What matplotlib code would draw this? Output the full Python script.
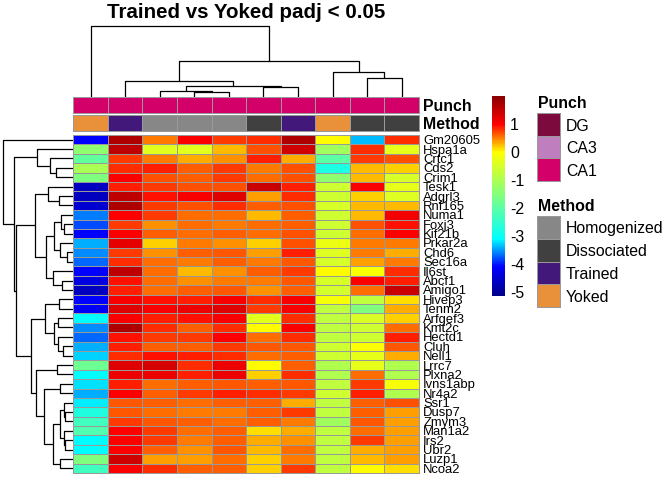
# pheatmap-style heatmap: Trained vs Yoked padj < 0.05
import numpy as np
import matplotlib
matplotlib.use('Agg')
import matplotlib.pyplot as plt
from matplotlib.colors import LinearSegmentedColormap, ListedColormap, Normalize
from matplotlib.cm import ScalarMappable

plt.rcParams['font.family'] = ['Liberation Sans', 'DejaVu Sans']
plt.rcParams['axes.unicode_minus'] = False

genes = ['Gm20605', 'Hspa1a', 'Crtc1', 'Cds2', 'Crim1', 'Tesk1', 'Adgrl3', 'Rnf165',
         'Numa1', 'Foxj3', 'Kif21b', 'Prkar2a', 'Chd6', 'Sec16a', 'Il6st', 'Abcf1',
         'Amigo1', 'Hivep3', 'Tenm2', 'Arfgef3', 'Kmt2c', 'Hectd1', 'Cluh', 'Nell1',
         'Lrrc7', 'Plxna2', 'Ivns1abp', 'Nr4a2', 'Ssr1', 'Dusp7', 'Zmym3', 'Man1a2',
         'Irs2', 'Ubr2', 'Luzp1', 'Ncoa2']

# values per gene (rows, in displayed order), 10 samples (columns)
expr = [
    [-4.10, 1.68, 0.50, 1.00, 0.75, 0.81, 1.68, 0.00, -3.35, 0.81],
    [-1.36, 1.54, -0.39, -0.35, 0.25, 0.69, 1.40, -1.17, 0.81, -0.30],
    [-1.90, 0.75, 0.50, 0.31, 0.44, 0.87, 0.31, -2.00, 0.75, 0.69],
    [-1.05, 0.81, 0.87, 0.62, 0.75, 0.50, 0.69, -2.75, 0.25, 0.18],
    [-1.55, 1.00, 0.69, 0.62, 0.75, 0.56, 0.69, -1.36, 0.25, -0.50],
    [-4.65, 0.87, 0.75, 0.69, 0.69, 1.45, 0.87, -0.60, 1.00, -0.30],
    [-4.65, 1.54, 0.94, 1.05, 1.27, 0.37, 0.81, -0.60, 0.18, -0.40],
    [-4.50, 1.68, 0.75, 0.69, 0.81, 0.62, 0.69, -0.50, 0.25, 0.25],
    [-3.60, 1.00, 0.75, 0.56, 0.56, 0.25, 0.62, -0.60, 0.25, 1.10],
    [-3.80, 0.75, 0.44, 0.56, 0.50, 0.56, 0.62, -0.60, 0.69, 0.94],
    [-4.10, 1.00, 0.62, 0.56, 0.62, 0.56, 0.69, -0.60, 0.56, 1.00],
    [-3.40, 1.20, 0.18, 0.50, 0.44, 0.18, 0.69, -0.25, 0.50, 0.50],
    [-3.55, 0.75, 0.44, 0.62, 0.66, 0.37, 0.87, -0.40, 0.50, 0.31],
    [-3.68, 0.81, 0.56, 0.50, 0.62, 0.50, 0.66, -0.50, 0.37, 0.50],
    [-4.10, 1.54, 0.56, 0.25, 0.44, 0.62, 0.75, 0.00, -0.05, 0.81],
    [-4.35, 0.94, 0.56, 0.44, 0.50, 0.50, 0.66, -0.50, 1.00, 0.87],
    [-4.65, 0.87, 0.56, 0.62, 0.66, 0.44, 0.62, -0.55, 0.56, 1.45],
    [-4.10, 1.05, 0.94, 0.87, 1.05, 0.81, 1.05, -0.10, -0.78, 0.12],
    [-4.20, 1.27, 1.05, 1.15, 1.27, 0.75, 1.05, -0.78, -1.55, 0.31],
    [-3.10, 1.00, 0.87, 0.94, 1.05, -0.35, 0.81, -0.78, -0.45, 0.18],
    [-3.55, 1.68, 0.81, 0.62, 0.81, 0.00, 1.00, -0.78, -0.60, 0.56],
    [-3.68, 0.94, 0.75, 0.75, 1.00, 0.56, 0.81, -0.78, -0.60, 0.87],
    [-3.40, 0.87, 0.62, 0.62, 0.75, 0.66, 0.66, -0.60, -0.05, 0.66],
    [-3.28, 0.81, 0.94, 0.87, 0.81, 0.56, 0.62, -0.60, -0.30, 0.31],
    [-1.76, 1.27, 1.35, 0.81, 1.15, 0.00, 0.62, -0.97, -0.30, -0.97],
    [-3.10, 1.15, 1.15, 0.87, 1.15, 0.18, 0.81, -0.97, 0.56, -0.97],
    [-3.22, 0.87, 0.56, 0.62, 0.66, 0.62, 0.66, -0.78, 0.75, -0.10],
    [-3.40, 1.00, 0.62, 0.75, 0.87, 0.81, 0.75, -0.60, 0.87, -0.97],
    [-3.16, 0.66, 0.62, 0.56, 0.62, 0.62, 0.31, -0.78, 0.62, 0.69],
    [-2.72, 0.66, 0.56, 0.50, 0.50, 0.62, 0.75, -0.78, 0.62, 0.37],
    [-2.33, 0.75, 0.66, 0.62, 0.56, 0.62, 0.50, -1.17, 0.66, 0.37],
    [-2.14, 1.00, 0.75, 0.56, 0.62, 0.12, 0.31, -0.78, 0.56, 0.37],
    [-3.10, 1.00, 0.75, 0.50, 0.62, 0.31, 0.44, -0.78, 0.75, 0.37],
    [-3.10, 1.00, 0.62, 0.44, 0.66, 0.25, 0.56, -0.78, 0.31, 0.37],
    [-1.55, 1.40, 0.37, 0.37, 0.56, 0.18, 0.50, -0.78, 0.25, 0.37],
    [-2.33, 1.00, 0.81, 0.62, 0.62, 0.18, 0.75, -0.78, 0.00, 0.12],
]

punch_levels = ['DG', 'CA3', 'CA1']
punch_colors = ['#7d0a3c', '#bf7fbf', '#d4006a']
method_levels = ['Homogenized', 'Dissociated', 'Trained', 'Yoked']
method_colors = ['#878787', '#404040', '#42187a', '#e8913a']

col_punch = ['CA1'] * 10
col_method = ['Yoked', 'Trained', 'Homogenized', 'Homogenized', 'Homogenized',
              'Dissociated', 'Trained', 'Yoked', 'Dissociated', 'Dissociated']

# linkage-like merges: (left, right, height); ids >= n are earlier merges
row_merges = [
    (3, 4, 17), (2, 36, 23), (1, 37, 36), (6, 7, 14.7), (5, 39, 25.3),
    (9, 10, 9.7), (8, 41, 12.3), (12, 13, 6.3), (11, 43, 13), (42, 44, 19.7),
    (15, 16, 11.3), (14, 46, 20.7), (45, 47, 27.3), (40, 48, 38), (17, 18, 14),
    (19, 20, 15.7), (22, 23, 10.3), (21, 52, 15), (51, 53, 19.7), (50, 54, 28.7),
    (24, 25, 16.3), (26, 27, 13), (29, 30, 8), (28, 58, 9.7), (32, 33, 8),
    (31, 60, 9.7), (59, 61, 13.7), (34, 35, 13.7), (62, 63, 20.3), (57, 64, 29.7),
    (56, 65, 37), (55, 66, 42.3), (49, 67, 57), (38, 68, 59), (0, 69, 70),
]
col_merges = [
    (3, 4, 5), (2, 10, 6.3), (5, 6, 9.7), (11, 12, 11), (1, 13, 15.7),
    (8, 9, 19.3), (7, 15, 25), (14, 16, 36), (0, 17, 71),
]

vmin, vmax = -5.12, 2.0
stops = [(-5.12, '#00008b'), (-4.1, '#0000ff'), (-3.1, '#00ffff'),
         (0.0, '#ffff00'), (1.0, '#ff0000'), (2.0, '#8b0000')]
cmap = LinearSegmentedColormap.from_list(
    'rb', [((v - vmin) / (vmax - vmin), c) for v, c in stops])
norm = Normalize(vmin, vmax)

W, H = 672, 480
fig = plt.figure(figsize=(W / 100, H / 100), dpi=100)


def add_ax(x0, y0, x1, y1):
    return fig.add_axes([x0 / W, 1 - y1 / H, (x1 - x0) / W, (y1 - y0) / H])


def draw_dendro(ax, merges, n, orient):
    pos = {i: i + 0.5 for i in range(n)}
    hgt = {i: 0.0 for i in range(n)}
    for k, (a, b, h) in enumerate(merges):
        p = [pos[a], pos[a], pos[b], pos[b]]
        q = [hgt[a], h, h, hgt[b]]
        if orient == 'top':
            ax.plot(p, q, color='black', lw=0.9, solid_capstyle='butt')
        else:
            ax.plot(q, p, color='black', lw=0.9, solid_capstyle='butt')
        pos[n + k] = (pos[a] + pos[b]) / 2
        hgt[n + k] = h
    ax.axis('off')


grid = '#999999'
hx0, hx1 = 73.3, 419
ncol, nrow = 10, len(genes)

# main heatmap
ax = add_ax(hx0, 135, hx1, 473)
m = ax.pcolormesh(np.arange(ncol + 1), np.arange(nrow + 1), np.array(expr),
                  cmap=cmap, norm=norm, edgecolors=grid, linewidth=0.7)
m.set_clip_on(False)
ax.set_xlim(0, ncol)
ax.set_ylim(nrow, 0)
ax.set_xticks([])
ax.yaxis.tick_right()
ax.set_yticks(np.arange(nrow) + 0.5, genes, fontsize=9.4)
ax.tick_params(length=0, pad=3)
for s in ax.spines.values():
    s.set_visible(False)

# annotation bars
for (y0, y1, vals, levels, cols, name) in [
        (97, 113, col_punch, punch_levels, punch_colors, 'Punch'),
        (115, 131, col_method, method_levels, method_colors, 'Method')]:
    a = add_ax(hx0, y0, hx1, y1)
    codes = np.array([[levels.index(v) for v in vals]])
    mm = a.pcolormesh(np.arange(ncol + 1), [0, 1], codes, cmap=ListedColormap(cols),
                      vmin=-0.5, vmax=len(levels) - 0.5, edgecolors=grid, linewidth=0.7)
    mm.set_clip_on(False)
    a.set_xlim(0, ncol)
    a.set_ylim(0, 1)
    a.set_xticks([])
    a.yaxis.tick_right()
    a.set_yticks([0.5], [name], fontsize=11.4, fontweight='bold')
    a.tick_params(length=0, pad=3)
    for s in a.spines.values():
        s.set_visible(False)

# dendrograms
axr = add_ax(0, 135, hx0, 473)
draw_dendro(axr, row_merges, nrow, 'left')
axr.set_xlim(hx0, 0)
axr.set_ylim(nrow, 0)

axc = add_ax(hx0, 22, hx1, 97)
draw_dendro(axc, col_merges, ncol, 'top')
axc.set_xlim(0, ncol)
axc.set_ylim(0, 75)

# colour bar
cax = add_ax(491.7, 96, 505, 295.7)
cb = fig.colorbar(ScalarMappable(norm=norm, cmap=cmap), cax=cax, ticks=range(-5, 2))
cb.outline.set_visible(False)
cax.tick_params(length=0, pad=3.6, labelsize=11.4)

# annotation legends
for (y0, y1, ty, levels, cols, name) in [
        (113.3, 181, 107.7, punch_levels, punch_colors, 'Punch'),
        (216, 307, 211, method_levels, method_colors, 'Method')]:
    la = add_ax(537.3, y0, 560.3, y1)
    k = len(levels)
    lm = la.pcolormesh([0, 1], np.arange(k + 1), np.arange(k).reshape(-1, 1),
                       cmap=ListedColormap(cols), vmin=-0.5, vmax=k - 0.5,
                       edgecolors=grid, linewidth=0.7)
    lm.set_clip_on(False)
    la.set_xlim(0, 1)
    la.set_ylim(k, 0)
    la.set_xticks([])
    la.yaxis.tick_right()
    la.set_yticks(np.arange(k) + 0.5, levels, fontsize=11.4)
    la.tick_params(length=0, pad=4)
    for s in la.spines.values():
        s.set_visible(False)
    fig.text(537.7 / W, 1 - ty / H, name, fontsize=11.4, fontweight='bold', va='baseline')

fig.text(246 / W, 1 - 18.3 / H, 'Trained vs Yoked padj < 0.05', ha='center',
         va='baseline', fontsize=14.8, fontweight='bold')

fig.savefig('out.png', dpi=100)
